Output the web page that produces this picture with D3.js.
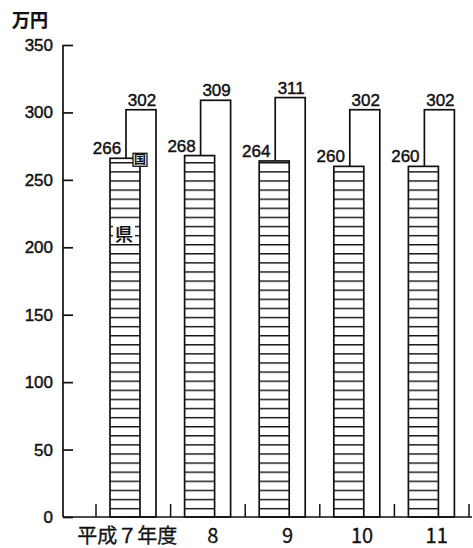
<!DOCTYPE html>
<html>
<head>
<meta charset="utf-8">
<script src="https://cdn.jsdelivr.net/npm/d3@7"></script>
<style>
  body { margin: 0; background: #fff; }
  svg text { fill: #111; stroke: #111; stroke-width: 0.45px; }
</style>
</head>
<body>
<div id="chart"></div>
<script>
(function(){

    //chart data
    var years = ["平成７年度", "8", "9", "10", "11"];
    var ken = [266, 268, 264, 260, 260];   //県
    var kuni = [302, 309, 311, 302, 302];  //国
    var yTicks = [0, 50, 100, 150, 200, 250, 300, 350];

    var width = 473, height = 548;
    var numFont = "'Liberation Sans', Arial, sans-serif";
    var jpFont = "'Noto Sans CJK JP', sans-serif";

    var svg = d3.select("#chart")
        .append("svg")
        .attr("width", width)
        .attr("height", height);

    //scales
    var y = d3.scaleLinear()
        .domain([0, 350])
        .range([517, 45]);

    var x = d3.scaleBand()
        .domain(years)
        .range([96, 469])
        .padding(0);

    var bw = 30;
    var kenOff = 14, kuniOff = 30;

    //hatch pattern for 県 bars, lines counted up from the baseline
    var pat = svg.append("defs")
        .append("pattern")
        .attr("id", "hatch")
        .attr("patternUnits", "userSpaceOnUse")
        .attr("width", 10)
        .attr("height", 9.1)
        .attr("patternTransform", "translate(0," + y(0) + ")");
    pat.append("rect")
        .attr("width", 10).attr("height", 9.1)
        .attr("fill", "#fff");
    pat.append("rect")
        .attr("x", 0).attr("y", 0)
        .attr("width", 10).attr("height", 1.4)
        .attr("fill", "#111");

    //y axis, ticks point inward
    var yAxis = d3.axisRight(y)
        .tickValues(yTicks)
        .tickSize(10)
        .tickFormat("");
    var ya = svg.append("g")
        .attr("transform", "translate(63,0)")
        .call(yAxis);
    ya.select(".domain").remove();
    ya.selectAll("line").attr("stroke", "#111").attr("stroke-width", 1.7);
    svg.append("line")
        .attr("x1", 63).attr("x2", 63)
        .attr("y1", y(350)).attr("y2", y(0))
        .attr("stroke", "#111").attr("stroke-width", 1.7);

    svg.selectAll(".ylab")
        .data(yTicks)
        .enter().append("text")
        .attr("class", "ylab")
        .attr("x", 53)
        .attr("y", function(d){ return y(d) + 6; })
        .attr("text-anchor", "end")
        .style("font-family", numFont)
        .style("font-size", "17px")
        .text(function(d){ return d; });

    //unit label
    svg.append("text")
        .attr("x", 12)
        .attr("y", 27)
        .style("font-family", jpFont)
        .style("font-size", "18px")
        .style("font-weight", 700)
        .style("stroke-width", "0.2px")
        .text("万円");

    //国 bars (behind)
    svg.selectAll(".kuni")
        .data(kuni)
        .enter().append("rect")
        .attr("class", "kuni")
        .attr("x", function(d, i){ return x(years[i]) + kuniOff; })
        .attr("y", function(d){ return y(d); })
        .attr("width", bw)
        .attr("height", function(d){ return y(0) - y(d); })
        .attr("fill", "#fff")
        .attr("stroke", "#111")
        .attr("stroke-width", 1.7);

    //県 bars (front, hatched)
    svg.selectAll(".ken")
        .data(ken)
        .enter().append("rect")
        .attr("class", "ken")
        .attr("x", function(d, i){ return x(years[i]) + kenOff; })
        .attr("y", function(d){ return y(d); })
        .attr("width", bw)
        .attr("height", function(d){ return y(0) - y(d); })
        .attr("fill", "url(#hatch)")
        .attr("stroke", "#111")
        .attr("stroke-width", 1.7);

    //value labels
    svg.selectAll(".kunilab")
        .data(kuni)
        .enter().append("text")
        .attr("class", "kunilab")
        .attr("x", function(d, i){ return x(years[i]) + kuniOff + bw / 2 + 1; })
        .attr("y", function(d){ return y(d) - 4; })
        .attr("text-anchor", "middle")
        .style("font-family", numFont)
        .style("font-size", "17px")
        .text(function(d){ return d; });

    svg.selectAll(".kenlab")
        .data(ken)
        .enter().append("text")
        .attr("class", "kenlab")
        .attr("x", function(d, i){ return x(years[i]) + kenOff - 3; })
        .attr("y", function(d){ return y(d) - 4; })
        .attr("text-anchor", "middle")
        .style("font-family", numFont)
        .style("font-size", "17px")
        .text(function(d){ return d; });

    //series labels on the first group
    var x0 = x(years[0]);
    svg.append("rect")
        .attr("x", x0 + 37).attr("y", y(ken[0]) - 5)
        .attr("width", 14).attr("height", 13)
        .attr("fill", "#fff")
        .attr("stroke", "#111")
        .attr("stroke-width", 1.3);
    svg.append("text")
        .attr("x", x0 + 44).attr("y", y(ken[0]) + 6)
        .attr("text-anchor", "middle")
        .style("font-family", jpFont)
        .style("font-size", "12px")
        .style("font-weight", 700)
        .style("stroke-width", "0.1px")
        .text("国");

    svg.append("rect")
        .attr("x", x0 + kenOff + 3).attr("y", y(210) - 10)
        .attr("width", 22).attr("height", 20)
        .attr("fill", "#fff");
    svg.append("text")
        .attr("x", x0 + kenOff + 14).attr("y", y(210) + 7)
        .attr("text-anchor", "middle")
        .style("font-family", jpFont)
        .style("font-size", "18px")
        .style("font-weight", 500)
        .style("stroke-width", "0.2px")
        .text("県");

    //x axis line and short category dividers
    svg.append("line")
        .attr("x1", 63).attr("x2", 472)
        .attr("y1", y(0)).attr("y2", y(0))
        .attr("stroke", "#111").attr("stroke-width", 1.7);

    var bounds = years.map(function(d){ return x(d); }).concat([x.range()[1]]);
    svg.selectAll(".div")
        .data(bounds)
        .enter().append("line")
        .attr("class", "div")
        .attr("x1", function(d){ return d; })
        .attr("x2", function(d){ return d; })
        .attr("y1", y(0))
        .attr("y2", y(0) - 13)
        .attr("stroke", "#111")
        .attr("stroke-width", 1.5);

    //category labels
    svg.selectAll(".xlab")
        .data(years)
        .enter().append("text")
        .attr("class", "xlab")
        .attr("x", function(d, i){ return x(d) + x.bandwidth() / 2 + (i === 0 ? -6 : 5); })
        .attr("y", 543)
        .attr("text-anchor", "middle")
        .style("font-family", "'Liberation Sans Narrow', 'Noto Sans CJK JP', sans-serif")
        .style("font-size", "20px")
        .style("stroke-width", "0.3px")
        .text(function(d){ return d; });

})()
</script>
</body>
</html>
